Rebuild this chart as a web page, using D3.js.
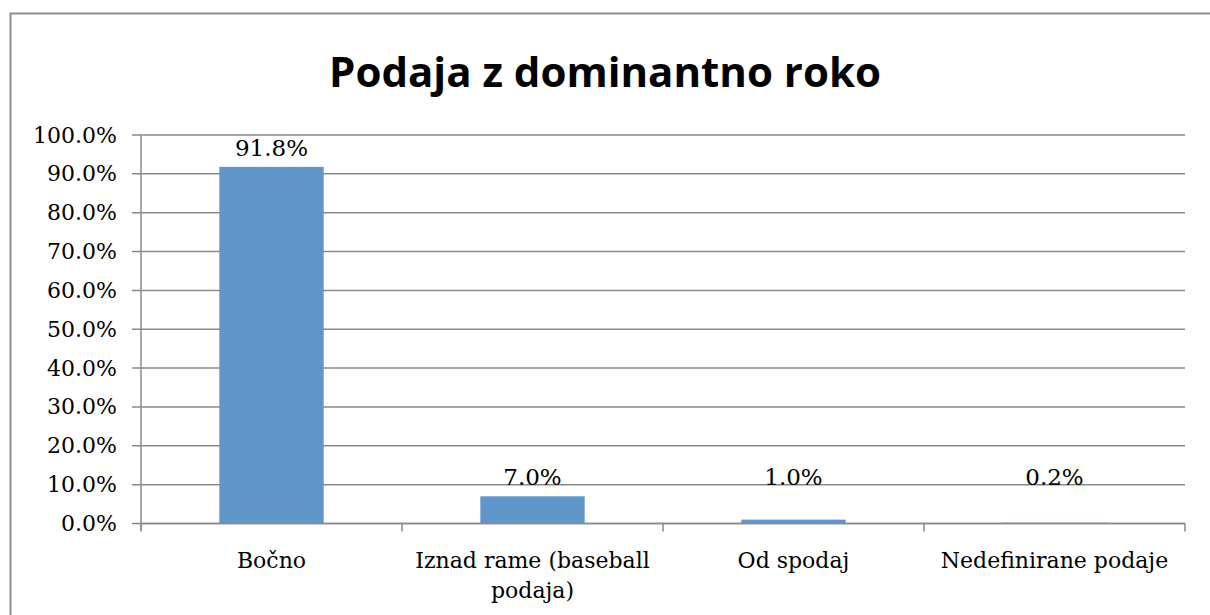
<html>
<head>
<meta charset="utf-8">
<style>
  body { margin: 0; background: #fff; }
  text { font-family: "DejaVu Serif", serif; fill: #000; }
</style>
</head>
<body>
<script src="https://cdn.jsdelivr.net/npm/d3@7/dist/d3.min.js"></script>
<script>
	// podatki
	var categories = ["Bočno", "Iznad rame (baseball podaja)", "Od spodaj", "Nedefinirane podaje"];
	var values = [91.8, 7.0, 1.0, 0.2];
	var yTicks = [0, 10, 20, 30, 40, 50, 60, 70, 80, 90, 100];
	var title = "Podaja z dominantno roko";

	var width = 1210, height = 615;
	var svg = d3.select("body").append("svg")
		.attr("width", width)
		.attr("height", height);

	// okvir grafa
	svg.append("rect")
		.attr("x", 10.5).attr("y", 13.5)
		.attr("width", 1220).attr("height", 620)
		.attr("fill", "none")
		.attr("stroke", "#8e8e8e")
		.attr("stroke-width", 2);

	var pLeft = 141, pRight = 1185, pTop = 135, pBottom = 523.5;

	var x = d3.scaleBand().domain(categories).range([pLeft, pRight]).padding(0);
	var y = d3.scaleLinear().domain([0, 100]).range([pBottom, pTop]);

	// mreža
	svg.append("g").selectAll("line")
		.data(yTicks)
		.enter().append("line")
		.attr("x1", pLeft - 9).attr("x2", pRight)
		.attr("y1", function(d){ return y(d); })
		.attr("y2", function(d){ return y(d); })
		.attr("stroke", "#8a8a8a")
		.attr("stroke-width", 1.5);

	// y os
	var yAxis = svg.append("g")
		.attr("transform", "translate(" + pLeft + ",0)")
		.call(d3.axisLeft(y).tickValues(yTicks).tickSize(0).tickPadding(24)
			.tickFormat(function(d){ return d3.format(".1f")(d) + "%"; }));
	yAxis.select(".domain").attr("stroke", "#8a8a8a").attr("stroke-width", 1.5)
		.attr("d", "M0," + pTop + "V" + (pBottom + 7));
	yAxis.selectAll("text").style("font-size", "22px").attr("font-family", null).attr("fill", "#000");

	// stolpci
	var barW = x.bandwidth() * 0.4;
	svg.append("g").selectAll("rect")
		.data(values)
		.enter().append("rect")
		.attr("x", function(d, i){ return x(categories[i]) + (x.bandwidth() - barW) / 2; })
		.attr("y", function(d){ return y(d); })
		.attr("width", barW)
		.attr("height", function(d){ return y(0) - y(d); })
		.attr("fill", "#6096ca");

	// x os
	var xAxis = svg.append("g").attr("transform", "translate(0," + pBottom + ")");
	xAxis.append("line")
		.attr("x1", pLeft).attr("x2", pRight)
		.attr("stroke", "#8a8a8a").attr("stroke-width", 1.5);
	xAxis.selectAll(".tk")
		.data(categories.concat([null]))
		.enter().append("line")
		.attr("x1", function(d, i){ return pLeft + i * x.step(); })
		.attr("x2", function(d, i){ return pLeft + i * x.step(); })
		.attr("y1", 0).attr("y2", 8)
		.attr("stroke", "#8a8a8a").attr("stroke-width", 1.5);

	// oznake kategorij (prelom kot v Excelu)
	var catLines = [["Bočno"], ["Iznad rame (baseball", "podaja)"], ["Od spodaj"], ["Nedefinirane podaje"]];
	svg.append("g").selectAll("text")
		.data(categories)
		.enter().append("text")
		.attr("x", function(d){ return x(d) + x.bandwidth() / 2; })
		.attr("y", 568)
		.attr("text-anchor", "middle")
		.style("font-size", "22px")
		.each(function(d, i){
			var t = d3.select(this);
			catLines[i].forEach(function(l, j){
				t.append("tspan")
					.attr("x", x(d) + x.bandwidth() / 2)
					.attr("dy", j === 0 ? 0 : 30)
					.text(l);
			});
		});

	// vrednosti nad stolpci
	svg.append("g").selectAll("text")
		.data(values)
		.enter().append("text")
		.attr("x", function(d, i){ return x(categories[i]) + x.bandwidth() / 2; })
		.attr("y", function(d){ return Math.min(y(d), y(7)) - 11; })
		.attr("text-anchor", "middle")
		.style("font-size", "23px")
		.text(function(d){ return d3.format(".1f")(d) + "%"; });

	// naslov
	svg.append("text")
		.attr("x", 605).attr("y", 87)
		.attr("text-anchor", "middle")
		.style("font-family", "'Open Sans', sans-serif")
		.style("font-weight", "bold")
		.style("font-size", "42px")
		.text(title);
</script>
</body>
</html>
